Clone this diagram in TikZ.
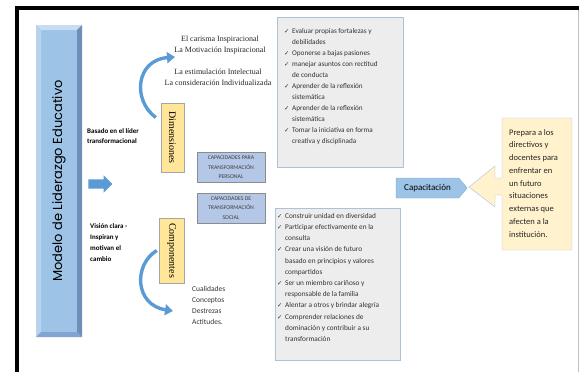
\documentclass[tikz,border=0pt]{standalone}
\usepackage{fontspec}
\setmainfont{Carlito}
\newfontfamily\romanfont{Liberation Serif}
\newfontfamily\titlefont{Poppins}
\newfontfamily\checkfont{DejaVu Sans}
\usepackage{xcolor}
\usetikzlibrary{arrows.meta,shapes.arrows,shapes.symbols}
\definecolor{modelBlue}{HTML}{9DC3E6}
\definecolor{modelLight}{HTML}{C9DDF2}
\definecolor{modelDark}{HTML}{6D90BA}
\definecolor{modelShade}{HTML}{81A5D0}
\definecolor{arcBlue}{HTML}{5B9BD5}
\definecolor{dimYellow}{HTML}{FFE699}
\definecolor{noteYellow}{HTML}{FFF2CC}
\definecolor{capBlue}{HTML}{B4C7E7}
\definecolor{listGray}{HTML}{EDEDED}
\definecolor{listLine}{HTML}{ADC2DA}
\newcommand{\chk}{\makebox[8pt][l]{\checkfont\fontsize{6.3}{6.3}\selectfont ✓}}
\newcommand{\ind}{\hspace*{8pt}}

\begin{document}
\begin{tikzpicture}[x=1pt,y=-1pt,font=\fontsize{7.2}{11}\selectfont]
  \tikzset{dimbox/.style={draw=black!35,fill=dimYellow,rotate=-90,minimum height=23pt,inner sep=0pt,font=\romanfont\fontsize{10}{10}\selectfont},
    capbox/.style={draw=black!45,fill=capBlue,minimum width=68pt,minimum height=30pt,inner sep=0pt,align=center,text=black!75,font=\fontsize{5.8}{9.5}\selectfont},
    listbox/.style={draw=listLine,fill=listGray,inner sep=0pt},
    listtext/.style={anchor=north west,align=left,inner sep=0pt,text=black!80},
    lead/.style={anchor=north west,align=left,inner sep=0pt,font=\bfseries\fontsize{7}{10.5}\selectfont},
    dimtext/.style={align=center,inner sep=0pt,text=black!85,font=\romanfont\fontsize{8}{11}\selectfont},
    bluearc/.style={draw=arcBlue,line width=3.4pt,-{Triangle[width=11pt,length=8pt]}}}
  \useasboundingbox (0,0) rectangle (579,372);
  % frame
  \draw[line width=3.5pt] (17,372) -- (17,8) -- (579,8);
  \draw[black!25,line width=1pt] (578,10) -- (578,372);
  % bevelled title bar
  \fill[modelBlue] (36,25) rectangle (82,337);
  \fill[modelLight] (36,25) -- (82,25) -- (77,30) -- (41,30) -- cycle;
  \fill[modelLight!60!modelBlue] (36,25) -- (41,30) -- (41,332) -- (36,337) -- cycle;
  \fill[modelDark] (82,25) -- (82,337) -- (77,332) -- (77,30) -- cycle;
  \fill[modelShade] (36,337) -- (82,337) -- (77,332) -- (41,332) -- cycle;
  \node[rotate=90,font=\titlefont\fontsize{13}{13}\selectfont] (model) at (59,181) {Modelo de Liderazgo Educativo};

  \node[lead] (basado) at (87,128) {Basado en el líder\\transformacional};
  \node[lead,font=\bfseries\fontsize{7}{11}\selectfont] (vision) at (90,223) {Visión clara -\\Inspiran y\\motivan el\\cambio};
  \node[single arrow,fill=arcBlue,minimum height=24pt,minimum width=17pt,single arrow head extend=4pt,inner xsep=0pt,inner ysep=4.5pt] (push) at (98,184) {};

  \node[dimbox,minimum width=69pt] (dim) at (172.5,137.5) {Dimensiones};
  \node[dimbox,minimum width=65pt,minimum height=25pt] (comp) at (171.5,250.5) {Componentes};

  \node[dimtext] (dimA) at (220,45.5) {El carisma Inspiracional\\La Motivación Inspiracional};
  \node[dimtext] (dimB) at (218,77.5) {La estimulación Intelectual\\La consideración Individualizada};
  \coordinate (dimtip) at (175,57);
  \draw[bluearc] ([xshift=-5pt,yshift=20pt]dim.south) .. controls (132,100) and (136,60) .. (dimtip);

  \node[anchor=north west,align=left,inner sep=0pt,text=black!80,font=\fontsize{7.5}{11}\selectfont] (traits) at (192,286) {Cualidades\\Conceptos\\Destrezas\\Actitudes.};
  \coordinate (comptip) at (173,311);
  \draw[bluearc] ([xshift=-2pt]comp.south) .. controls (133,265) and (135,305) .. (comptip);

  \node[capbox] (capper) at (231,167.5) {CAPACIDADES PARA\\TRANSFORMACIÓN\\PERSONAL};
  \node[capbox] (capsoc) at (231,208) {CAPACIDADES DE\\TRANSFORMACIÓN\\SOCIAL};

  \node[listbox,minimum width=126pt,minimum height=150pt] (selfbox) at (340,92) {};
  \node[listtext] (selflist) at (284,28) {\chk Evaluar propias fortalezas y\\\ind debilidades\\\chk Oponerse a bajas pasiones\\\chk manejar asuntos con rectitud\\\ind de conducta\\\chk Aprender de la reflexión\\\ind sistemática\\\chk Aprender de la reflexión\\\ind sistemática\\\chk Tomar la iniciativa en forma\\\ind creativa y disciplinada};

  \node[listbox,minimum width=125pt,minimum height=152pt] (groupbox) at (337.5,284) {};
  \node[listtext,font=\fontsize{7.3}{11.2}\selectfont] (grouplist) at (277,213) {\chk Construir unidad en diversidad\\\chk Participar efectivamente en la\\\ind consulta\\\chk Crear una visión de futuro\\\ind basado en principios y valores\\\ind compartidos\\\chk Ser un miembro cariñoso y\\\ind responsable de la familia\\\chk Alentar a otros y brindar alegría\\\chk Comprender relaciones de\\\ind dominación y contribuir a su\\\ind transformación};

  \node[signal,signal to=east,signal pointer angle=100,draw=arcBlue!80,fill=modelBlue,minimum width=71pt,minimum height=20pt,inner sep=0pt,font=\fontsize{9}{9}\selectfont] (train) at (427.5,188) {Capacitación};

  % callout
  \draw[listLine,fill=noteYellow] (502,118) -- (572,118) -- (572,250) -- (502,250) -- (502,195) -- (495,195) -- (495,207) -- (469,187) -- (495,166) -- (495,178) -- (502,178) -- cycle;
  \node[anchor=north west,align=left,inner sep=0pt,text=black!85,font=\fontsize{8.5}{12.75}\selectfont] (prepara) at (509,129) {Prepara a los\\directivos y\\docentes para\\enfrentar en\\un futuro\\situaciones\\externas que\\afecten a la\\institución.};
\end{tikzpicture}
\end{document}
